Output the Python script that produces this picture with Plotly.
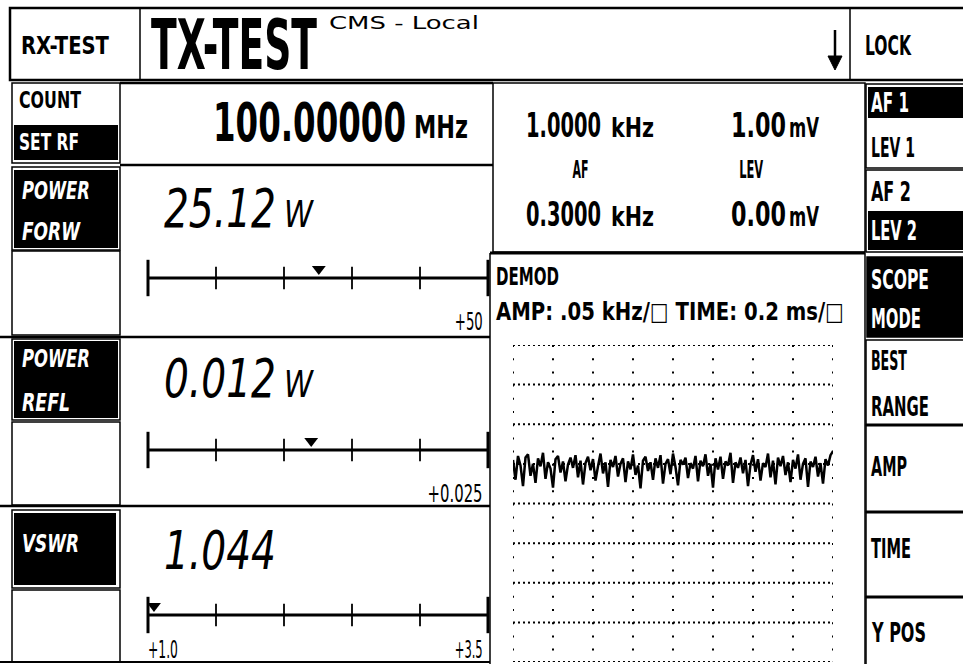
import json
import numpy as np
import plotly.graph_objects as go

W, H = 963, 664
FONT = "DejaVu Sans, Liberation Sans, sans-serif"

# ---------------- data ----------------
top_softkeys = ["RX-TEST", "LOCK"]
title_text = "TX-TEST"
subtitle_text = "CMS - Local"

rf_label_top = "COUNT"
rf_label_active = "SET RF"
rf_frequency = "100.00000"
rf_unit = "MHz"

af_values = ["1.0000", "0.3000"]
af_unit = "kHz"
lev_values = ["1.00", "0.00"]
lev_unit = "mV"
af_header = "AF"
lev_header = "LEV"

right_softkeys = ["AF 1", "LEV 1", "AF 2", "LEV 2", "SCOPE", "MODE", "BEST", "RANGE", "AMP", "TIME", "Y POS"]
right_softkeys_active = ["AF 1", "LEV 2", "SCOPE", "MODE"]

meter_names = [["POWER", "FORW"], ["POWER", "REFL"], ["VSWR"]]
meter_readouts = ["25.12", "0.012", "1.044"]
meter_units = ["W", "W", ""]
meter_values = [25.12, 0.012, 1.044]
meter_min = [0.0, 0.0, 1.0]
meter_max = [50.0, 0.025, 3.5]
meter_min_labels = ["", "", "+1.0"]
meter_max_labels = ["+50", "+0.025", "+3.5"]
meter_divisions = 5

scope_title = "DEMOD"
scope_amp_per_div_khz = 0.05
scope_time_per_div_ms = 0.2
scope_divisions = 8
scope_ypos_khz = -0.017
scope_trace_khz = [
    0.055, 0.030, 0.060, 0.048, 0.022, 0.058, 0.062, 0.035, 0.050, 0.026,
    0.057, 0.047, 0.064, 0.031, 0.052, 0.044, 0.020, 0.056, 0.060, 0.039,
    0.053, 0.028, 0.049, 0.058, 0.045, 0.061, 0.033, 0.054, 0.024, 0.051,
    0.059, 0.042, 0.056, 0.029, 0.047, 0.063, 0.038, 0.052, 0.021, 0.055,
    0.046, 0.060, 0.034, 0.050, 0.057, 0.027, 0.053, 0.043, 0.062, 0.036,
    0.048, 0.019, 0.054, 0.059, 0.041, 0.052, 0.030, 0.057, 0.045, 0.061,
    0.025, 0.050, 0.056, 0.037, 0.063, 0.046, 0.023, 0.055, 0.049, 0.058,
    0.032, 0.051, 0.044, 0.060, 0.028, 0.054, 0.047, 0.062, 0.035, 0.050,
    0.020, 0.057, 0.043, 0.059, 0.031, 0.053, 0.048, 0.064, 0.026, 0.052,
    0.045, 0.058, 0.038, 0.055, 0.022, 0.049, 0.061, 0.040, 0.056, 0.029,
    0.051, 0.046, 0.063, 0.033, 0.054, 0.024, 0.058, 0.047, 0.060, 0.036,
    0.052, 0.027, 0.055, 0.044, 0.062, 0.030, 0.050, 0.057, 0.021, 0.053,
    0.046, 0.059, 0.034, 0.051, 0.025, 0.056, 0.048, 0.061, 0.066,
]

# ---------------- layout helpers ----------------
shapes = []
annotations = []
target_widths = []


def line(x0, y0, x1, y1, lw=2.0, xref="x", yref="y", dash="solid"):
    shapes.append(dict(type="line", xref=xref, yref=yref, x0=x0, y0=y0, x1=x1, y1=y1,
                       line=dict(color="black", width=lw, dash=dash)))


def rect(x0, y0, x1, y1, lw=1.5, fill=None):
    shapes.append(dict(type="rect", xref="x", yref="y", x0=x0, y0=y0, x1=x1, y1=y1,
                       line=dict(color="black", width=lw if lw else 0),
                       fillcolor=fill if fill else "rgba(0,0,0,0)"))


def txt(x, y, text, size, anchor="left", width=None, color="black", weight="bold", style="normal"):
    annotations.append(dict(
        x=x, y=y, xref="x", yref="y", text=text, showarrow=False,
        xanchor=anchor, yanchor="middle", align=anchor,
        font=dict(family=FONT, size=size, color=color, weight=weight, style=style),
        borderpad=0,
    ))
    target_widths.append(width)


# ---------------- frame ----------------
rect(10, 8, 966, 80, lw=2.5)
line(140, 8, 140, 80, 1.5)
line(850, 8, 850, 80, 1.5)
# down arrow
line(835, 30, 835, 60, 2.5)
shapes.append(dict(type="path", xref="x", yref="y", path="M 828 56 L 842 56 L 835 70 Z",
                   fillcolor="black", line=dict(color="black", width=1)))

# count / set rf
rect(12, 83, 120, 163)
rect(14, 125, 118, 160, lw=0, fill="black")
line(120, 83, 493, 83, 2.5)
line(120, 165, 493, 165, 2.5)
# AF/LEV panel
rect(493, 83, 865, 252, lw=1.5)
line(490, 253, 865, 253, 3)
line(490, 253, 490, 664, 1.5)
line(865, 253, 865, 664, 1.5)

# right column boxes
rect(866, 84, 966, 168)
rect(868, 87, 966, 118, lw=0, fill="black")
rect(866, 170, 966, 252)
rect(868, 211, 966, 250, lw=0, fill="black")
rect(867, 257, 966, 337, lw=1.5, fill="black")
rect(866, 340, 966, 425, lw=1.5)
line(866, 425, 966, 425, 3)
rect(866, 425, 966, 512, lw=1.5)
line(866, 512, 966, 512, 3)
rect(866, 512, 966, 597, lw=1.5)
line(866, 597, 966, 597, 3)
rect(866, 597, 966, 668, lw=1.5)

# left column boxes
rect(12, 167, 120, 250)
rect(14, 170, 118, 248, lw=0, fill="black")
rect(12, 251, 120, 335)
rect(12, 339, 120, 420)
rect(14, 341, 118, 418, lw=0, fill="black")
rect(12, 422, 120, 505)
rect(12, 510, 120, 588)
rect(14, 513, 116, 585, lw=0, fill="black")
rect(12, 590, 120, 662)
line(0, 337, 490, 337, 2.5)
line(0, 506, 490, 506, 2.5)
line(0, 662, 490, 662, 2)

# ---------------- texts ----------------
txt(20, 45, top_softkeys[0], 25, width=88)
txt(150, 45, title_text, 70, width=166)
txt(328, 22, subtitle_text, 18, width=150, weight="normal")
txt(864, 46, top_softkeys[1], 26, width=46)

txt(18, 100, rf_label_top, 23, width=62)
txt(18, 142, rf_label_active, 23, width=60, color="white")
txt(212, 122, rf_frequency, 54, width=193)
txt(413, 127, rf_unit, 32, width=54)

rows_y = [125, 214]
for i in range(2):
    txt(525, rows_y[i], af_values[i], 34, width=75)
    txt(610, rows_y[i] + 3, af_unit, 26, width=43)
    txt(730, rows_y[i], lev_values[i], 34, width=55)
    txt(788, rows_y[i] + 3, lev_unit, 26, width=30)
txt(580, 170, af_header, 24, anchor="center", width=16)
txt(751, 170, lev_header, 24, anchor="center", width=24)

rk_y = [102, 147, 191, 230, 279, 318, 360, 406, 466, 548, 632]
rk_w = [38, 44, 40, 46, 58, 50, 36, 58, 36, 40, 54]
for name, yy, ww in zip(right_softkeys, rk_y, rk_w):
    col = "white" if name in right_softkeys_active else "black"
    txt(870, yy, name, 27, width=ww, color=col)

name_y = [[190, 231], [358, 402], [543]]
name_w = {"POWER": 68, "FORW": 58, "REFL": 48, "VSWR": 57}
for names, ys in zip(meter_names, name_y):
    for nm, yy in zip(names, ys):
        txt(21, yy, nm, 25, width=name_w[nm], color="white", style="italic")

meter_line_y = [278, 450, 615]
readout_y = [208, 378, 550]
max_label_w = [28, 55, 28]
for i in range(3):
    txt(163, readout_y[i], meter_readouts[i], 54, width=112, weight="normal", style="italic")
    if meter_units[i]:
        txt(283, readout_y[i] + 6, meter_units[i], 38, width=29, weight="normal", style="italic")
    lab_y = meter_line_y[i] + 43 if i < 2 else meter_line_y[i] + 34
    if meter_min_labels[i]:
        txt(147, lab_y, meter_min_labels[i], 25, width=30, weight="normal")
    txt(484, lab_y, meter_max_labels[i], 25, anchor="right", width=max_label_w[i], weight="normal")

amp_str = f"{scope_amp_per_div_khz:.2f}"[1:]
txt(495, 276, scope_title, 25, width=63)
txt(495, 311, f"AMP: {amp_str} kHz/\u25a1 TIME: {scope_time_per_div_ms} ms/\u25a1", 25, width=348)

# ---------------- figure / data traces ----------------
fig = go.Figure()

MX0, MX1 = 148, 488
for i in range(3):
    k = i + 2
    ax = f"x{k}"
    ay = f"y{k}"
    yc = meter_line_y[i]
    ticks = np.linspace(meter_min[i], meter_max[i], meter_divisions + 1)
    fig.add_trace(go.Scatter(x=[meter_min[i], meter_max[i]], y=[0, 0], mode="lines",
                             line=dict(color="black", width=3), xaxis=ax, yaxis=ay,
                             hoverinfo="skip", cliponaxis=False))
    fig.add_trace(go.Scatter(x=ticks[1:-1], y=[0] * (len(ticks) - 2), mode="markers",
                             marker=dict(symbol="line-ns", size=16, line=dict(color="black", width=1.8)),
                             xaxis=ax, yaxis=ay, hoverinfo="skip", cliponaxis=False))
    fig.add_trace(go.Scatter(x=[ticks[0], ticks[-1]], y=[0, 0], mode="markers",
                             marker=dict(symbol="line-ns", size=26, line=dict(color="black", width=3)),
                             xaxis=ax, yaxis=ay, hoverinfo="skip", cliponaxis=False))
    fig.add_trace(go.Scatter(x=[meter_values[i]], y=[0.45], mode="markers",
                             marker=dict(symbol="triangle-down", size=12, color="black"),
                             xaxis=ax, yaxis=ay, hoverinfo="skip", cliponaxis=False))
    fig.layout[f"xaxis{k}"] = dict(domain=[MX0 / W, MX1 / W], range=[meter_min[i], meter_max[i]],
                                   visible=False, anchor=ay, fixedrange=True)
    fig.layout[f"yaxis{k}"] = dict(domain=[(H - yc - 20) / H, (H - yc + 20) / H], range=[-1, 1],
                                   visible=False, anchor=ax, fixedrange=True)

# scope
SX0, SX1, SY0, SY1 = 513, 833, 345, 662
t_span = scope_time_per_div_ms * scope_divisions
a_span = scope_amp_per_div_khz * scope_divisions / 2
n = len(scope_trace_khz)
t_ms = np.arange(n) * (t_span / (n - 1))

t_grid = np.arange(scope_divisions + 1) * scope_time_per_div_ms
a_grid = (np.arange(scope_divisions + 1) - scope_divisions / 2) * scope_amp_per_div_khz
for tv in t_grid:
    line(tv, a_span, tv, -a_span, 2, xref="x5", yref="y5", dash="2px,11.2px")
for av in a_grid:
    line(0, av, t_span, av, 2, xref="x5", yref="y5", dash="2px,3px")

fig.add_trace(go.Scatter(x=t_ms, y=scope_trace_khz, mode="lines",
                         line=dict(color="black", width=2.5), xaxis="x5", yaxis="y5",
                         hoverinfo="skip"))
fig.add_trace(go.Scatter(x=[-0.04], y=[scope_ypos_khz], mode="markers",
                         marker=dict(symbol="triangle-right", size=15, color="black"),
                         xaxis="x5", yaxis="y5", hoverinfo="skip", cliponaxis=False))
fig.layout["xaxis5"] = dict(domain=[SX0 / W, SX1 / W], range=[0, t_span], visible=False,
                            anchor="y5", fixedrange=True)
fig.layout["yaxis5"] = dict(domain=[(H - SY1) / H, (H - SY0) / H], range=[-a_span, a_span],
                            visible=False, anchor="x5", fixedrange=True)

# base pixel axes for the frame
fig.add_trace(go.Scatter(x=[0], y=[0], mode="markers", marker=dict(opacity=0), hoverinfo="skip",
                         xaxis="x", yaxis="y"))
fig.update_layout(
    width=W, height=H, margin=dict(l=0, r=0, t=0, b=0),
    paper_bgcolor="white", plot_bgcolor="rgba(0,0,0,0)",
    showlegend=False,
    xaxis=dict(domain=[0, 1], range=[0, W], visible=False, fixedrange=True),
    yaxis=dict(domain=[0, 1], range=[H, 0], visible=False, fixedrange=True),
    shapes=shapes, annotations=annotations,
)

post = """
document.body.style.margin='0';
document.body.style.overflow='hidden';
var tw = %s;
var gd = document.getElementById('{plot_id}');
gd.querySelectorAll('g.annotation').forEach(function(g){
  var i = +g.getAttribute('data-index');
  var w = tw[i]; if (!w) return;
  var t = g.querySelector('text'); if (!t) return;
  var L = t.getComputedTextLength(); if (!L) return;
  var s = w / L;
  var x = parseFloat(t.getAttribute('x')) || 0;
  var old = t.getAttribute('transform') || '';
  t.setAttribute('transform', old + ' translate(' + x + ',0) scale(' + s + ',1) translate(' + (-x) + ',0)');
});
""" % json.dumps(target_widths)

fig.write_html("out.html", config={"displayModeBar": False, "staticPlot": True}, post_script=post)
